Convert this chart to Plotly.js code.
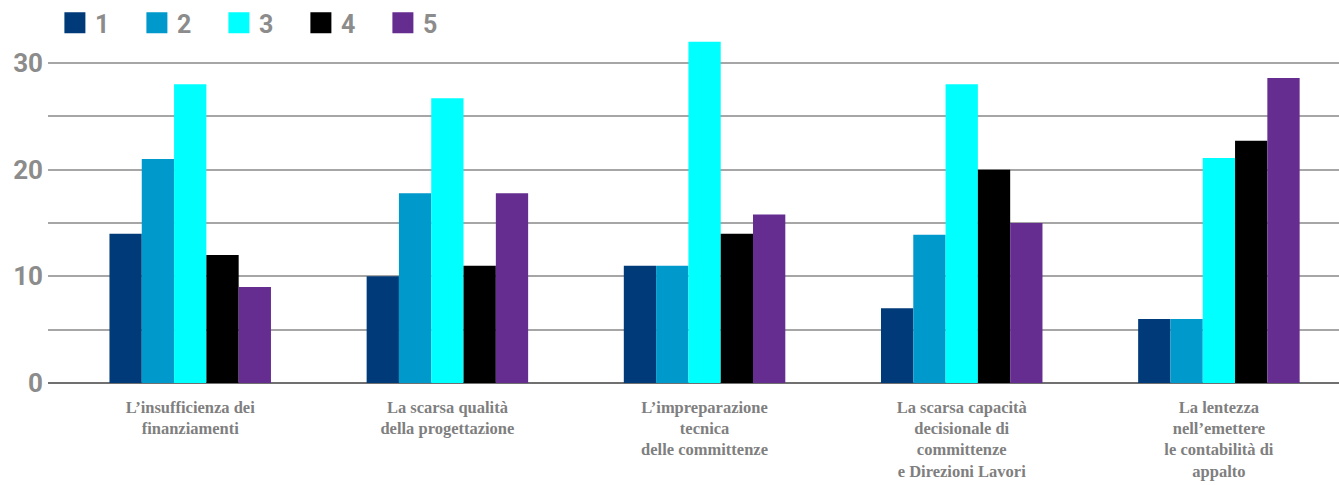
<!DOCTYPE html>
<html>
<head>
<meta charset="utf-8">
<script src="https://cdn.plot.ly/plotly-3.0.1.min.js"></script>
<style>html,body{margin:0;padding:0;background:#fff;}#chart{width:1339px;height:485px;}</style>
</head>
<body>
<div id="chart"></div>
<script>
const categories = [
  "L’insufficienza dei<br>finanziamenti",
  "La scarsa qualità<br>della progettazione",
  "L’impreparazione<br>tecnica<br>delle committenze",
  "La scarsa capacità<br>decisionale di<br>committenze<br>e Direzioni Lavori",
  "La lentezza<br>nell’emettere<br>le contabilità di<br>appalto"
];
const seriesNames = ["1", "2", "3", "4", "5"];
const series1 = [14, 10, 11, 7, 6];
const series2 = [21, 17.8, 11, 13.9, 6];
const series3 = [28, 26.7, 32, 28, 21.1];
const series4 = [12, 11, 14, 20, 22.7];
const series5 = [9, 17.8, 15.8, 15, 28.6];
const yTickVals = [0, 10, 20, 30];
const yTickText = ["0", "10", "20", "30"];

const colors = ["#003a78", "#0099cc", "#00ffff", "#000000", "#662d91"];
const allSeries = [series1, series2, series3, series4, series5];

const traces = [];
allSeries.forEach((vals, i) => {
  traces.push({
    type: "bar",
    x: categories,
    y: vals,
    name: seriesNames[i],
    legendgroup: "g" + i,
    showlegend: false,
    marker: { color: colors[i], line: { width: 0 } },
    hoverinfo: "x+y+name"
  });
});
allSeries.forEach((vals, i) => {
  traces.push({
    type: "scatter",
    mode: "markers",
    x: [null],
    y: [null],
    name: seriesNames[i],
    legendgroup: "g" + i,
    showlegend: true,
    marker: { symbol: "square", size: 16, color: colors[i], line: { color: colors[i], width: 5 } },
    hoverinfo: "skip"
  });
});

const layout = {
  width: 1339,
  height: 485,
  margin: { l: 48, r: 0, t: 31, b: 102, pad: 0, autoexpand: false },
  paper_bgcolor: "#ffffff",
  plot_bgcolor: "#ffffff",
  barmode: "group",
  bargap: 0.372,
  bargroupgap: 0,
  showlegend: true,
  legend: {
    orientation: "h",
    xref: "container",
    yref: "container",
    x: 0.041,
    xanchor: "left",
    y: 1.0,
    yanchor: "top",
    itemsizing: "trace",
    entrywidth: 37,
    traceorder: "normal",
    font: { family: "Roboto, 'Open Sans', sans-serif", size: 25, color: "#8c8c8c", weight: "bold" },
    bgcolor: "rgba(0,0,0,0)"
  },
  xaxis: {
    type: "category",
    range: [-0.553, 4.467],
    showgrid: false,
    zeroline: false,
    showline: false,
    ticks: "",
    ticklabelstandoff: 12,
    tickfont: { family: "'Liberation Serif', 'DejaVu Serif', serif", size: 16.5, color: "#7f7f7f", weight: "bold" },
    fixedrange: true
  },
  yaxis: {
    range: [0, 33],
    tickmode: "array",
    tickvals: yTickVals,
    ticktext: yTickText,
    showgrid: true,
    gridcolor: "#a6a6a6",
    gridwidth: 1.5,
    zeroline: true,
    zerolinecolor: "#707070",
    zerolinewidth: 2,
    showline: false,
    ticks: "",
    ticklabelstandoff: 4,
    tickfont: { family: "Roboto, 'Open Sans', sans-serif", size: 26, color: "#8c8c8c", weight: "bold" },
    minor: { dtick: 5, tick0: 0, showgrid: true, gridcolor: "#a6a6a6", gridwidth: 1.5 },
    fixedrange: true
  }
};

Plotly.newPlot("chart", traces, layout, { displayModeBar: false, staticPlot: false });
</script>
</body>
</html>
